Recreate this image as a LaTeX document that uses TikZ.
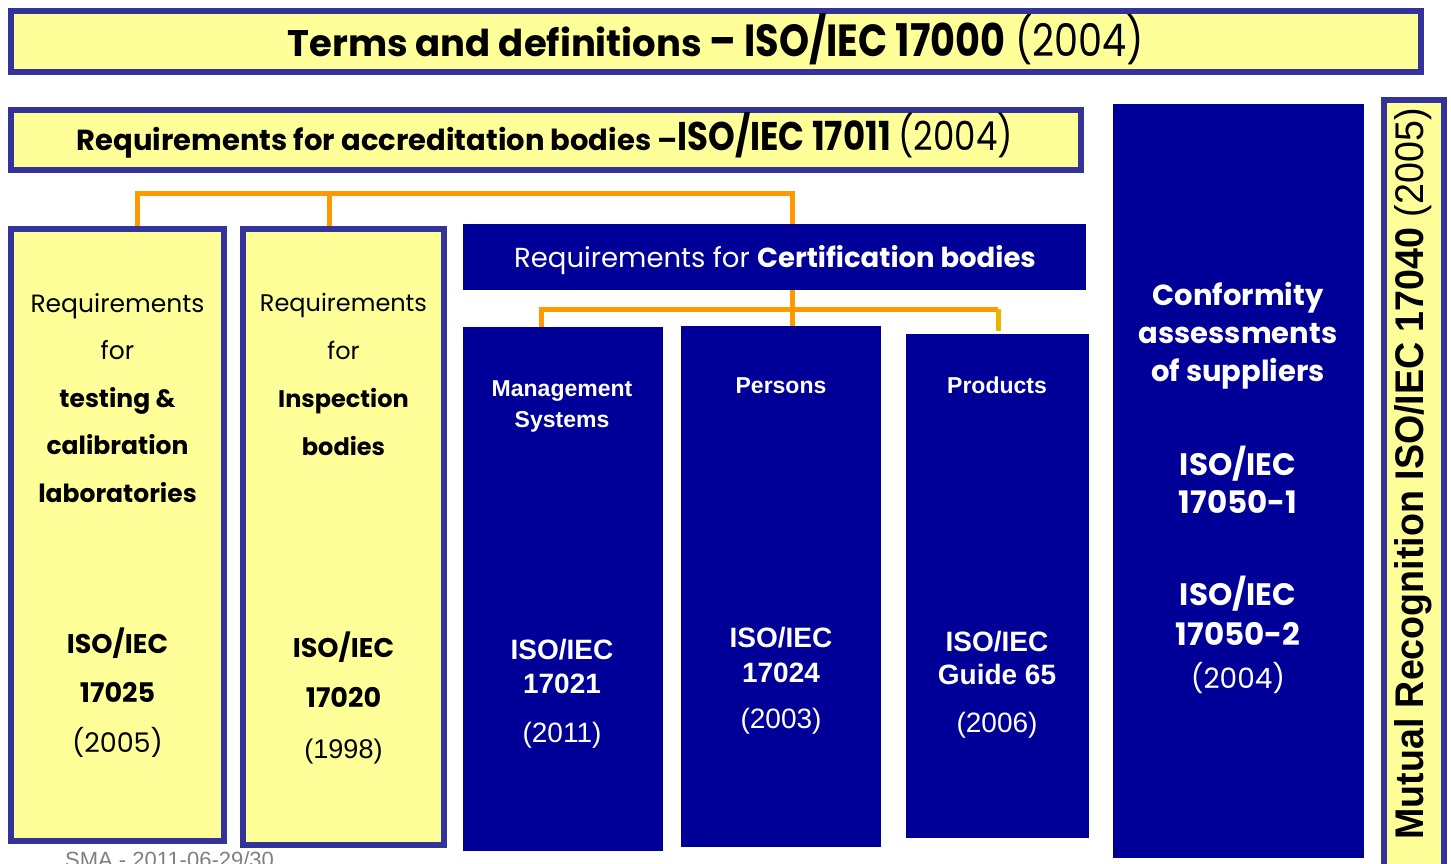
\documentclass[tikz,border=0pt]{standalone}
\usepackage{fontspec}
\setmainfont{Poppins}
\newfontfamily\arialfont{Liberation Sans}
\usetikzlibrary{positioning}

\definecolor{frameblue}{RGB}{51,51,153}
\definecolor{paleyellow}{RGB}{255,255,153}
\definecolor{isoblue}{RGB}{0,0,153}
\definecolor{linkorange}{RGB}{255,153,0}
\definecolor{linkgold}{RGB}{236,180,0}
\definecolor{footgray}{RGB}{128,128,128}

\newcommand{\narrowtext}[2]{{\fontsize{#1}{#1}\selectfont\scalebox{0.85}[1]{#2}}}

\tikzset{
	yellowbox/.style={draw=frameblue, line width=6pt, fill=paleyellow, inner sep=0pt},
	bluebox/.style={fill=isoblue, inner sep=0pt},
	link/.style={draw=linkorange, line width=5pt},
	txt/.style={inner sep=0pt, anchor=base},
}

\begin{document}
\begin{tikzpicture}[x=1pt,y=-1pt]
	\useasboundingbox (0,0) rectangle (1451,864);

	% top banners
	\node[yellowbox, minimum width=1410pt, minimum height=61pt] (terms) at (716,41.5) {};
	\node[txt, font=\fontsize{37}{40}\selectfont] (termstxt) at (716,57) {\textbf{Terms and definitions \narrowtext{45}{-- ISO/IEC 17000}} \narrowtext{45}{(2004)}};
	\node[yellowbox, minimum width=1070pt, minimum height=60pt] (accr) at (546,140) {};
	\node[txt, font=\fontsize{29}{32}\selectfont] (accrtxt) at (545,150) {\textbf{Requirements for accreditation bodies --\narrowtext{40}{ISO/IEC 17011}} \narrowtext{40}{(2004)}};

	% accredited bodies
	\node[yellowbox, minimum width=213pt, minimum height=612pt] (lab) at (117.5,535) {};
	\node[yellowbox, minimum width=201pt, minimum height=616pt] (insp) at (343.5,537) {};
	\node[bluebox, minimum width=623pt, minimum height=66pt] (cert) at (774.5,257) {};
	\node[txt, text=white, font=\fontsize{27.5}{30}\selectfont] (certtxt) at (775,267) {Requirements for \textbf{Certification bodies}};
	\foreach \nm/\cx/\cy/\w/\h in {mgmt/563/589/200/524, pers/781/586.5/200/521, prod/997.5/586/183/504}
		\node[bluebox, minimum width=\w pt, minimum height=\h pt] (\nm) at (\cx,\cy) {};
	\node[bluebox, minimum width=251pt, minimum height=754pt] (conf) at (1238.5,481) {};
	\node[yellowbox, minimum width=60pt, minimum height=770pt] (mutual) at (1414,485) {};

	% links
	\coordinate (busA) at (137,193);
	\coordinate (busB) at (792,193);
	\coordinate (busC) at (329,193);
	\coordinate (busD) at (541,309);
	\coordinate (busE) at (998,309);
	\draw[link] (lab.north -| busA) -- (busA) -- (busB) -- (cert.north -| busB);
	\draw[link] (busC) -- (insp.north -| busC);
	\draw[link] (cert.south -| busB) -- (pers.north -| busB);
	\draw[link] (mgmt.north -| busD) -- (busD) -- (busE);
	\draw[link, draw=linkgold] (busE) -- ([yshift=3pt]prod.north -| busE);

	% yellow box texts
	\foreach \t [count=\i] in {Requirements, for, \bfseries testing \&, \bfseries calibration, \bfseries laboratories}
		\node[txt, font=\fontsize{25}{28}\selectfont] (labtxt\i) at (117.5,{312+47.5*(\i-1)}) {\t};
	\foreach \t [count=\i] in {Requirements, for, \bfseries Inspection, \bfseries bodies}
		\node[txt, font=\fontsize{24}{28}\selectfont] (insptxt\i) at (343.5,{311+48*(\i-1)}) {\t};
	\foreach \t [count=\i] in {{\bfseries ISO/IEC}, \bfseries 17025, (2005)}
		\node[txt, font=\fontsize{27}{30}\selectfont] (labiso\i) at (117.5,{653+49.5*(\i-1)}) {\t};
	\foreach \t [count=\i] in {{\bfseries ISO/IEC}, \bfseries 17020, \arialfont (1998)}
		\node[txt, font=\fontsize{27}{30}\selectfont] (inspiso\i) at (343.5,{657+50.5*(\i-1)}) {\t};

	% certification texts
	\node[txt, text=white, font=\arialfont\bfseries\fontsize{23}{24}\selectfont] (mgmttxt1) at (562,396) {Management};
	\node[txt, text=white, font=\arialfont\bfseries\fontsize{23}{24}\selectfont] (mgmttxt2) at (562,427) {Systems};
	\node[txt, text=white, font=\arialfont\bfseries\fontsize{23}{24}\selectfont] (perstxt) at (781,393) {Persons};
	\node[txt, text=white, font=\arialfont\bfseries\fontsize{23}{24}\selectfont] (prodtxt) at (997,393) {Products};
	\foreach \t/\y [count=\i] in {{\bfseries ISO/IEC}/659, {\bfseries 17021}/693, {(2011)}/742}
		\node[txt, text=white, font=\arialfont\fontsize{28}{30}\selectfont] (mgmtiso\i) at (562,\y) {\t};
	\foreach \t/\y [count=\i] in {{\bfseries ISO/IEC}/647, {\bfseries 17024}/682, {(2003)}/728}
		\node[txt, text=white, font=\arialfont\fontsize{28}{30}\selectfont] (persiso\i) at (781,\y) {\t};
	\foreach \t/\y [count=\i] in {{\bfseries ISO/IEC}/651, {\bfseries Guide 65}/684, {(2006)}/732}
		\node[txt, text=white, font=\arialfont\fontsize{28}{30}\selectfont] (prodiso\i) at (997,\y) {\t};

	% conformity of suppliers
	\foreach \t/\y [count=\i] in {{Conformity}/305, {assessments}/343, {of suppliers}/381}
		\node[txt, text=white, font=\bfseries\fontsize{29}{30}\selectfont] (conftxt\i) at (1238,\y) {\t};
	\foreach \t/\y [count=\i] in {{ISO/IEC}/475, {17050-1}/513, {ISO/IEC}/605, {17050-2}/645}
		\node[txt, text=white, font=\bfseries\fontsize{31}{32}\selectfont] (confiso\i) at (1238,\y) {\t};
	\node[txt, text=white, font=\fontsize{28}{30}\selectfont] (confyear) at (1238,688) {(2004)};

	% mutual recognition
	\node[rotate=90, inner sep=0pt, font=\arialfont\fontsize{40}{44}\selectfont] (mutualtxt) at (1413,474) {\scalebox{0.94}[1]{\textbf{Mutual Recognition ISO/IEC 17040} (2005)}};

	\node[txt, anchor=base west, text=footgray, font=\arialfont\fontsize{22}{24}\selectfont] (foot) at (65,867) {SMA - 2011-06-29/30};
\end{tikzpicture}
\end{document}
